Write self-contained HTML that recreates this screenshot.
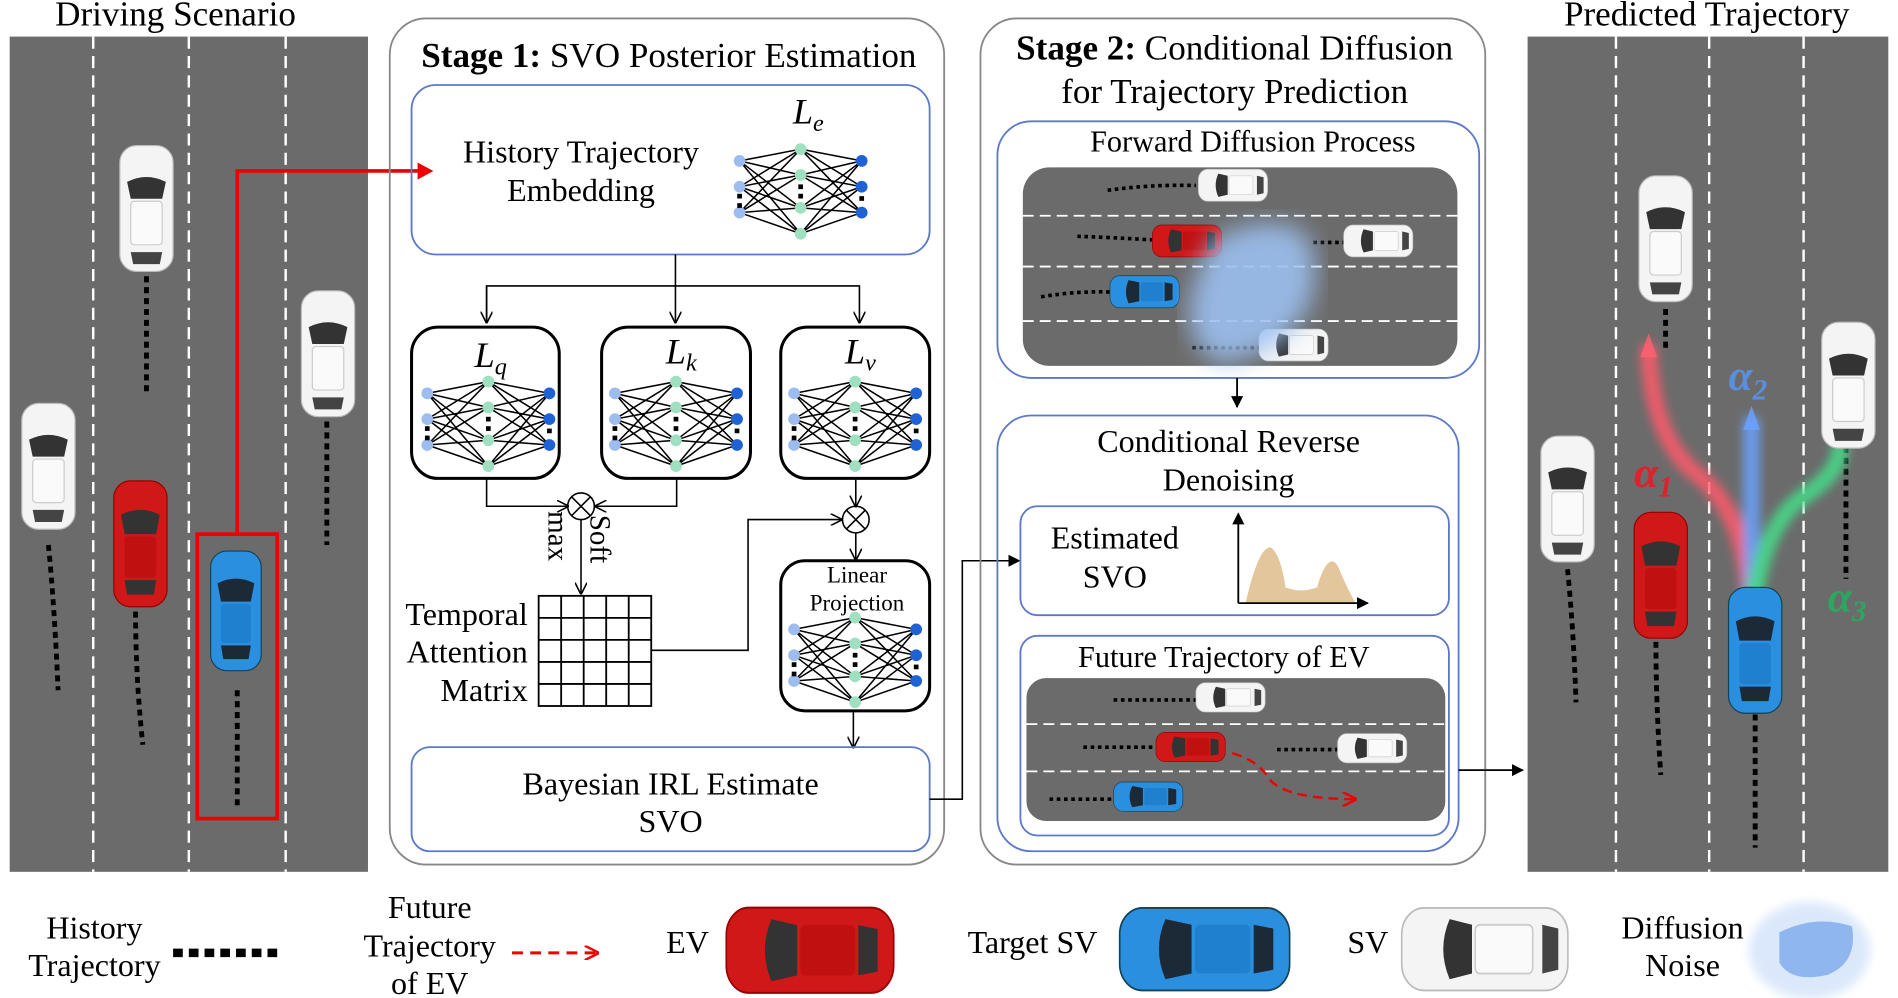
<!DOCTYPE html>
<html><head><meta charset="utf-8"><style>html,body{margin:0;padding:0;background:#fff}svg{display:block}text{font-family:"Liberation Serif",serif}</style></head><body>
<svg width="1898" height="998" viewBox="0 0 1568 824" xmlns="http://www.w3.org/2000/svg">
<defs>
<symbol id="nn" overflow="visible">
<g stroke="#000" stroke-width="1.3">
<path d="M0 10L52 0M0 10L52 22M0 10L52 50M0 10L52 72M0 32L52 0M0 32L52 22M0 32L52 50M0 32L52 72M0 54L52 0M0 54L52 22M0 54L52 50M0 54L52 72M104 10L52 0M104 10L52 22M104 10L52 50M104 10L52 72M104 32L52 0M104 32L52 22M104 32L52 50M104 32L52 72M104 54L52 0M104 54L52 22M104 54L52 50M104 54L52 72"/>
</g>
<g fill="#9dbcef"><circle cx="0" cy="10" r="5"/><circle cx="0" cy="32" r="5"/><circle cx="0" cy="54" r="5"/></g>
<g fill="#9fe0c0"><circle cx="52" cy="0" r="5"/><circle cx="52" cy="22" r="5"/><circle cx="52" cy="50" r="5"/><circle cx="52" cy="72" r="5"/></g>
<g fill="#1e62d6"><circle cx="104" cy="10" r="5"/><circle cx="104" cy="32" r="5"/><circle cx="104" cy="54" r="5"/></g>
<g fill="#000"><rect x="-2" y="38" width="4" height="4"/><rect x="-2" y="46" width="4" height="4"/><rect x="50" y="30" width="4" height="4"/><rect x="50" y="38" width="4" height="4"/><rect x="102" y="40" width="4" height="4"/></g>
</symbol>
<symbol id="carW" overflow="visible">
<rect x="0" y="0" width="44" height="104" rx="14" fill="#f4f4f4" stroke="#bbb"/>
<path d="M6 30Q22 22 38 30L35 44H9Z" fill="#333"/>
<rect x="9" y="46" width="26" height="36" rx="3" fill="#fafafa" stroke="#ccc"/>
<path d="M9 88H35L33 98H11Z" fill="#444"/>
</symbol>
<symbol id="carR" overflow="visible">
<rect x="0" y="0" width="44" height="104" rx="14" fill="#d01818" stroke="#900"/>
<path d="M6 28Q22 20 38 28L35 44H9Z" fill="#333"/>
<rect x="9" y="46" width="26" height="34" rx="3" fill="#c01010"/>
<path d="M9 82H35L33 94H11Z" fill="#333"/>
</symbol>
<symbol id="carB" overflow="visible">
<rect x="0" y="0" width="44" height="104" rx="14" fill="#2b8fe0" stroke="#145"/>
<path d="M6 28Q22 20 38 28L35 44H9Z" fill="#1c2a38"/>
<rect x="9" y="46" width="26" height="34" rx="3" fill="#2080d0"/>
<path d="M9 82H35L33 94H11Z" fill="#1c2a38"/>
</symbol>
<filter id="blur"><feGaussianBlur stdDeviation="10"/></filter>
<filter id="blur2"><feGaussianBlur stdDeviation="4"/></filter>
<marker id="ah" markerWidth="10" markerHeight="10" refX="9" refY="5" orient="auto" markerUnits="userSpaceOnUse"><path d="M0 0L10 5L0 10" fill="none" stroke="#000" stroke-width="1.3"/></marker>
<marker id="ahf" markerWidth="10" markerHeight="10" refX="9" refY="5" orient="auto" markerUnits="userSpaceOnUse"><path d="M0 0L10 5L0 10Z" fill="#000"/></marker>
<marker id="ahr2" markerWidth="12" markerHeight="12" refX="11" refY="6" orient="auto" markerUnits="userSpaceOnUse"><path d="M0 0L12 6L0 12" fill="none" stroke="#e00" stroke-width="2"/></marker>
</defs>

<!-- Left panel -->
<text x="145" y="21" font-size="29" text-anchor="middle">Driving Scenario</text>
<rect x="8" y="30" width="296" height="690" fill="#6b6b6b"/>
<g stroke="#fff" stroke-width="2" stroke-dasharray="10 6"><line x1="77" y1="30" x2="77" y2="720"/><line x1="156" y1="30" x2="156" y2="720"/><line x1="236" y1="30" x2="236" y2="720"/></g>
<g stroke="#000" stroke-width="4" stroke-dasharray="5 4" fill="none">
<path d="M121 228V325"/><path d="M270 348V450"/><path d="M40 450Q45 500 48 570"/><path d="M112 505Q112 560 118 615"/><path d="M196 570V668"/>
</g>
<use href="#carW" x="99" y="120"/><use href="#carW" x="249" y="240"/><use href="#carW" x="18" y="333"/>
<use href="#carR" x="94" y="397"/><use href="#carB" x="174" y="455" transform="translate(174 455) scale(.95) translate(-174 -455)"/>
<rect x="163" y="441" width="66" height="235" fill="none" stroke="#e00" stroke-width="3"/>
<path d="M196 441V141H350" fill="none" stroke="#e00" stroke-width="3"/><path d="M345 134L358 141L345 148Z" fill="#e00"/>

<!-- Stage 1 -->
<rect x="322" y="15" width="458" height="699" rx="30" fill="none" stroke="#888" stroke-width="1.5"/>
<text x="348" y="55" font-size="29"><tspan font-weight="bold">Stage 1:</tspan> SVO Posterior Estimation</text>
<rect x="340" y="70" width="428" height="140" rx="20" fill="none" stroke="#5c78c8" stroke-width="1.5"/>
<text x="480" y="134" font-size="26.5" text-anchor="middle">History Trajectory</text>
<text x="480" y="166" font-size="26.5" text-anchor="middle">Embedding</text>
<text x="655" y="102" font-size="30" font-style="italic">L<tspan font-size="20" dy="6">e</tspan></text>
<use href="#nn" transform="translate(611 123) scale(.97)"/>
<g fill="none" stroke="#000" stroke-width="1.3">
<path d="M558 210V266" marker-end="url(#ah)"/><path d="M402 266V236H710V266" marker-end="url(#ah)"/><path d="M402 236V266" marker-end="url(#ah)"/>
</g>
<g fill="none" stroke="#000" stroke-width="2.5">
<rect x="340" y="270" width="122" height="125" rx="22"/><rect x="497" y="270" width="123" height="125" rx="22"/><rect x="645" y="270" width="123" height="125" rx="22"/>
<rect x="645" y="463" width="123" height="124" rx="20"/>
</g>
<text x="392" y="303" font-size="30" font-style="italic">L<tspan font-size="20" dy="6">q</tspan></text>
<text x="550" y="300" font-size="30" font-style="italic">L<tspan font-size="20" dy="6">k</tspan></text>
<text x="698" y="300" font-size="30" font-style="italic">L<tspan font-size="20" dy="6">v</tspan></text>
<use href="#nn" transform="translate(353 315) scale(.97)"/>
<use href="#nn" transform="translate(508 315) scale(.97)"/>
<use href="#nn" transform="translate(656 315) scale(.97)"/>
<use href="#nn" transform="translate(656 510) scale(.97)"/>
<text x="708" y="481" font-size="19" text-anchor="middle">Linear</text>
<text x="708" y="504" font-size="19" text-anchor="middle">Projection</text>
<g fill="none" stroke="#000" stroke-width="1.3">
<path d="M402 395V418H469" marker-end="url(#ah)"/><path d="M559 395V418H492" marker-end="url(#ah)"/>
<circle cx="480" cy="418" r="11"/><path d="M472 410L488 426M488 410L472 426"/>
<path d="M480 429V490" marker-end="url(#ah)"/>
<path d="M707 395V418" marker-end="url(#ah)"/>
<circle cx="707" cy="429" r="11"/><path d="M699 421L715 437M715 421L699 437"/>
<path d="M538 537H618V429H695" marker-end="url(#ah)"/>
<path d="M707 440V462" marker-end="url(#ah)"/>
<path d="M705 587V617" marker-end="url(#ah)"/>
</g>
<text font-size="24" transform="translate(488 425) rotate(90)">Soft</text>
<text font-size="24" transform="translate(453 422) rotate(90)">max</text>
<g stroke="#000" stroke-width="1.5" fill="none">
<rect x="445" y="492" width="93" height="91"/>
<path d="M463.6 492V583M482.2 492V583M500.8 492V583M519.4 492V583M445 510.2H538M445 528.4H538M445 546.6H538M445 564.8H538"/>
</g>
<text x="436" y="516" font-size="26.5" text-anchor="end">Temporal</text>
<text x="436" y="547" font-size="26.5" text-anchor="end">Attention</text>
<text x="436" y="579" font-size="26.5" text-anchor="end">Matrix</text>
<rect x="340" y="617" width="428" height="86" rx="15" fill="none" stroke="#5c78c8" stroke-width="1.5"/>
<text x="554" y="656" font-size="26.5" text-anchor="middle">Bayesian IRL Estimate</text>
<text x="554" y="687" font-size="26.5" text-anchor="middle">SVO</text>
<path d="M768 660H795V463H842" fill="none" stroke="#000" stroke-width="1.3" marker-end="url(#ahf)"/>

<!-- Stage 2 -->
<rect x="810" y="15" width="417" height="699" rx="30" fill="none" stroke="#888" stroke-width="1.5"/>
<text x="1020" y="49" font-size="29" text-anchor="middle"><tspan font-weight="bold">Stage 2:</tspan> Conditional Diffusion</text>
<text x="1020" y="85" font-size="29" text-anchor="middle">for Trajectory Prediction</text>
<rect x="824" y="100" width="398" height="212" rx="28" fill="none" stroke="#5c78c8" stroke-width="1.5"/>
<text x="1035" y="125" font-size="25" text-anchor="middle">Forward Diffusion Process</text>
<rect x="845" y="138" width="359" height="164" rx="22" fill="#6b6b6b"/>
<g stroke="#fff" stroke-width="1.5" stroke-dasharray="9 5"><line x1="845" y1="178" x2="1204" y2="178"/><line x1="845" y1="220" x2="1204" y2="220"/><line x1="845" y1="265" x2="1204" y2="265"/></g>
<g stroke="#000" stroke-width="3" stroke-dasharray="3 3" fill="none"><path d="M915 157Q950 152 988 153"/><path d="M890 195Q920 196 953 198"/><path d="M1085 200H1110"/><path d="M860 245Q890 240 917 241"/><path d="M985 287H1042"/></g>
<g transform="translate(990 166) rotate(-90)"><use href="#carW" transform="scale(.6 .55)"/></g>
<g transform="translate(1110 212) rotate(-90)"><use href="#carW" transform="scale(.6 .55)"/></g>
<g transform="translate(1040 298) rotate(-90)"><use href="#carW" transform="scale(.6 .55)"/></g>
<g transform="translate(952 212) rotate(-90)"><use href="#carR" transform="scale(.6 .55)"/></g>
<g transform="translate(917 254) rotate(-90)"><use href="#carB" transform="scale(.6 .55)"/></g>
<path d="M1000 200Q1040 175 1075 190Q1095 215 1080 255Q1060 290 1010 300Q975 285 985 240Z" fill="#9cc0f0" opacity=".9" filter="url(#blur)"/>
<path d="M1022 312V336" stroke="#000" stroke-width="1.5" marker-end="url(#ahf)"/>
<rect x="824" y="343" width="381" height="360" rx="28" fill="none" stroke="#5c78c8" stroke-width="1.5"/>
<text x="1015" y="373" font-size="26.5" text-anchor="middle">Conditional Reverse</text>
<text x="1015" y="405" font-size="26.5" text-anchor="middle">Denoising</text>
<rect x="843" y="418" width="354" height="90" rx="14" fill="none" stroke="#5c78c8" stroke-width="1.5"/>
<text x="921" y="453" font-size="26.5" text-anchor="middle">Estimated</text>
<text x="921" y="485" font-size="26.5" text-anchor="middle">SVO</text>
<path d="M1029 498Q1040 450 1050 452Q1058 458 1062 485Q1075 490 1088 485Q1097 455 1105 467Q1115 490 1120 498Z" fill="#e3c69c"/>
<path d="M1023 498V424" stroke="#000" stroke-width="1.5" marker-end="url(#ahf)"/><path d="M1023 498H1130" stroke="#000" stroke-width="1.5" marker-end="url(#ahf)"/>
<rect x="843" y="525" width="354" height="165" rx="14" fill="none" stroke="#5c78c8" stroke-width="1.5"/>
<text x="1011" y="551" font-size="25" text-anchor="middle">Future Trajectory of EV</text>
<rect x="848" y="560" width="346" height="118" rx="16" fill="#6b6b6b"/>
<g stroke="#fff" stroke-width="1.5" stroke-dasharray="9 5"><line x1="848" y1="598" x2="1194" y2="598"/><line x1="848" y1="637" x2="1194" y2="637"/></g>
<g stroke="#000" stroke-width="3" stroke-dasharray="3 3" fill="none"><path d="M920 578H988"/><path d="M895 617H955"/><path d="M1055 619H1105"/><path d="M867 660H920"/></g>
<g transform="translate(988 588) rotate(-90)"><use href="#carW" transform="scale(.55 .55)"/></g>
<g transform="translate(1105 630) rotate(-90)"><use href="#carW" transform="scale(.55 .55)"/></g>
<g transform="translate(955 629) rotate(-90)"><use href="#carR" transform="scale(.55 .55)"/></g>
<g transform="translate(920 670) rotate(-90)"><use href="#carB" transform="scale(.55 .55)"/></g>
<path d="M1018 622Q1040 628 1050 645Q1065 660 1120 660" fill="none" stroke="#e00" stroke-width="2" stroke-dasharray="8 5" marker-end="url(#ahr2)"/>
<path d="M1205 636H1258" stroke="#000" stroke-width="1.5" marker-end="url(#ahf)"/>

<!-- Right panel -->
<text x="1410" y="21" font-size="29" text-anchor="middle">Predicted Trajectory</text>
<rect x="1262" y="30" width="298" height="690" fill="#6b6b6b"/>
<g stroke="#fff" stroke-width="2" stroke-dasharray="10 6"><line x1="1335" y1="30" x2="1335" y2="720"/><line x1="1412" y1="30" x2="1412" y2="720"/><line x1="1490" y1="30" x2="1490" y2="720"/></g>
<g stroke="#000" stroke-width="4" stroke-dasharray="5 4" fill="none">
<path d="M1295 470Q1300 520 1302 580"/><path d="M1368 530Q1368 580 1372 640"/><path d="M1450 590V700"/><path d="M1525 360V478"/><path d="M1376 255V290"/>
</g>
<g fill="none" stroke-width="14" stroke-linecap="round" filter="url(#blur2)">
<path d="M1445 490Q1440 420 1400 390Q1365 360 1362 290" stroke="#ff5a6a" opacity=".85"/>
<path d="M1447 490V350" stroke="#6aa2ff" opacity=".85"/>
<path d="M1450 490Q1460 430 1490 410Q1520 390 1520 370" stroke="#44dd88" opacity=".85"/>
</g>
<path d="M1355 295L1362 275L1369 295Z" fill="#ff6070" opacity=".8"/>
<path d="M1440 355L1447 335L1454 355Z" fill="#6aa2ff" opacity=".8"/>
<use href="#carW" x="1354" y="145"/><use href="#carW" x="1505" y="266"/><use href="#carW" x="1273" y="360"/>
<use href="#carR" x="1350" y="423"/><use href="#carB" x="1428" y="485"/>
<text x="1350" y="402" font-size="36" font-style="italic" font-weight="bold" fill="#e0202a">α<tspan font-size="24" dy="8">1</tspan></text>
<text x="1428" y="322" font-size="36" font-style="italic" font-weight="bold" fill="#5a8fe0">α<tspan font-size="24" dy="8">2</tspan></text>
<text x="1510" y="505" font-size="36" font-style="italic" font-weight="bold" fill="#2aa860">α<tspan font-size="24" dy="8">3</tspan></text>

<!-- Legend -->
<text x="78" y="775" font-size="26.5" text-anchor="middle">History</text>
<text x="78" y="806" font-size="26.5" text-anchor="middle">Trajectory</text>
<path d="M143 787H233" stroke="#000" stroke-width="7" stroke-dasharray="8 5"/>
<text x="355" y="758" font-size="26.5" text-anchor="middle">Future</text>
<text x="355" y="790" font-size="26.5" text-anchor="middle">Trajectory</text>
<text x="355" y="821" font-size="26.5" text-anchor="middle">of EV</text>
<path d="M423 787H494" stroke="#e00" stroke-width="2.5" stroke-dasharray="9 6" marker-end="url(#ahr2)"/>
<text x="568" y="787" font-size="26.5" text-anchor="middle">EV</text>
<g transform="translate(600 820) rotate(-90)"><use href="#carR" transform="scale(1.6 1.33)"/></g>
<text x="853" y="787" font-size="26.5" text-anchor="middle">Target SV</text>
<g transform="translate(925 818) rotate(-90)"><use href="#carB" transform="scale(1.55 1.35)"/></g>
<text x="1130" y="787" font-size="26.5" text-anchor="middle">SV</text>
<g transform="translate(1158 818) rotate(-90)"><use href="#carW" transform="scale(1.55 1.32)"/></g>
<text x="1390" y="775" font-size="26.5" text-anchor="middle">Diffusion</text>
<text x="1390" y="806" font-size="26.5" text-anchor="middle">Noise</text>
<ellipse cx="1495" cy="785" rx="50" ry="40" fill="#dbe8fb" filter="url(#blur2)"/>
<path d="M1470 770Q1500 755 1530 765Q1535 795 1510 805Q1480 812 1470 795Z" fill="#8fb6ef"/>
</svg>
</body></html>
